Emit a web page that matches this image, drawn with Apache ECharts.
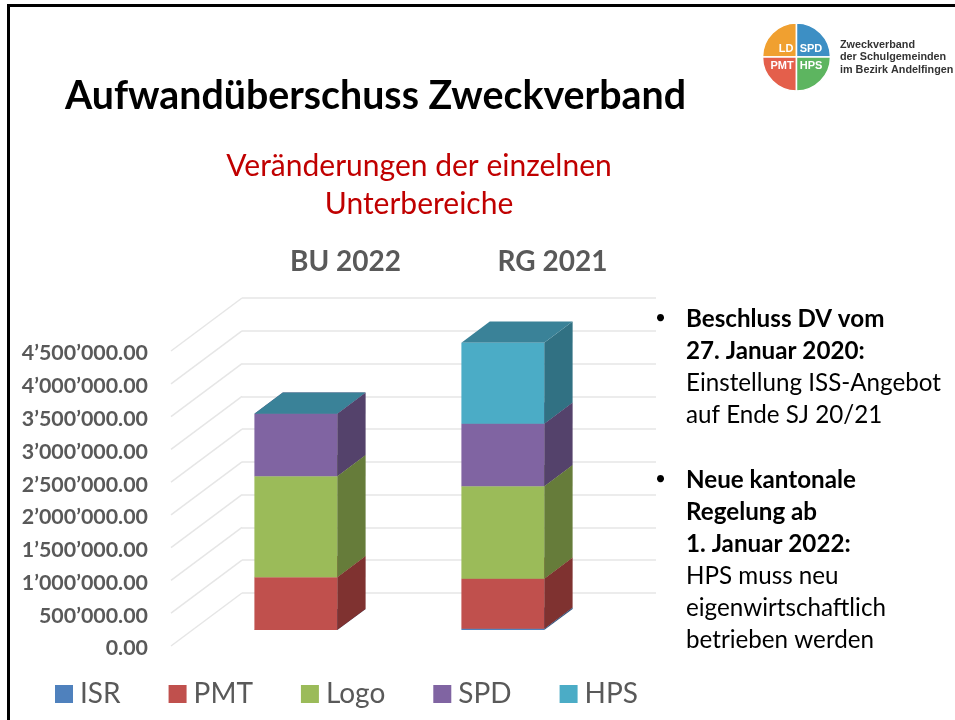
<!DOCTYPE html>
<html>
<head>
<meta charset="utf-8">
<style>
  html, body { margin: 0; padding: 0; background: #fff; }
  #chart { width: 955px; height: 720px; }
</style>
<script src="https://cdn.jsdelivr.net/npm/echarts@6/dist/echarts.min.js"></script>
</head>
<body>
<div id="chart"></div>
<script>
const categories = ["BU 2022", "RG 2021"];
const seriesNames = ["ISR", "PMT", "Logo", "SPD", "HPS"];
const isr = [0, 20000];
const pmt = [808000, 765000];
const logo = [1540000, 1411000];
const spd = [953000, 953000];
const hps = [0, 1234000];
const seriesValues = [isr, pmt, logo, spd, hps];
const yTicks = [0, 500000, 1000000, 1500000, 2000000, 2500000, 3000000, 3500000, 4000000, 4500000];

const frontColors = ["#4F81BD", "#C0504D", "#9BBB59", "#8064A2", "#4BACC6"];
const sideColors = ["#34557D", "#7F3230", "#667C3A", "#54426B", "#317183"];
const topColors = ["#3F6797", "#9A403E", "#7C9647", "#665082", "#3A8298"];

const fontName = "Lato";
// floor depth of the fake 3d box, in pixels
const depthX = 71;
const depthY = -53;
const barWidthShare = 0.4;
const barDepthFrom = 0.3;
const barDepthTo = 0.7;

function formatTick(value) {
  const text = value.toFixed(2).replace(/\B(?=(\d{3})+(?!\d))(?=.*\.)/g, "’");
  return "{v|" + text + "}";
}

function renderBox(index) {
  return function (params, api) {
    const base = api.coord([api.value(0), api.value(1)]);
    const top = api.coord([api.value(0), api.value(2)]);
    const w = api.size([1, 0])[0] * barWidthShare;
    const ox = depthX * barDepthFrom;
    const oy = depthY * barDepthFrom;
    const dx = depthX * (barDepthTo - barDepthFrom);
    const dy = depthY * (barDepthTo - barDepthFrom);
    const x0 = base[0] - w / 2 + ox;
    const x1 = x0 + w;
    const y0 = base[1] + oy;
    const y1 = top[1] + oy;
    return {
      type: "group",
      children: [
        {
          type: "polygon",
          shape: { points: [[x1, y0], [x1 + dx, y0 + dy], [x1 + dx, y1 + dy], [x1, y1]] },
          style: { fill: sideColors[index] }
        },
        {
          type: "polygon",
          shape: { points: [[x0, y1], [x1, y1], [x1 + dx, y1 + dy], [x0 + dx, y1 + dy]] },
          style: { fill: topColors[index] }
        },
        {
          type: "rect",
          shape: { x: x0, y: y1, width: w, height: y0 - y1 },
          style: { fill: frontColors[index] }
        }
      ]
    };
  };
}

function boxSeries() {
  const totals = categories.map(() => 0);
  return seriesNames.map((name, index) => {
    const data = categories.map((cat, c) => {
      const start = totals[c];
      totals[c] += seriesValues[index][c];
      return [c, start, totals[c]];
    });
    return {
      name: name,
      type: "custom",
      xAxisIndex: 0,
      yAxisIndex: 0,
      z: 5,
      itemStyle: { color: frontColors[index] },
      encode: { x: 0, y: [1, 2] },
      data: data,
      renderItem: renderBox(index)
    };
  });
}

const diagonalSeries = {
  type: "custom",
  xAxisIndex: 0,
  yAxisIndex: 0,
  silent: true,
  z: 1,
  clip: false,
  encode: { y: 0 },
  data: yTicks.map((v) => [v]),
  renderItem: function (params, api) {
    const p = api.coord([0, api.value(0)]);
    const x = params.coordSys.x;
    return {
      type: "line",
      shape: { x1: x, y1: p[1], x2: x + depthX, y2: p[1] + depthY },
      style: { stroke: "#E6E6E6", lineWidth: 1.5 }
    };
  }
};

const bulletLines = [
  { text: "Beschluss DV vom", y: 319, bold: true, bullet: true },
  { text: "27. Januar 2020:", y: 351, bold: true },
  { text: "Einstellung ISS-Angebot", y: 383 },
  { text: "auf Ende SJ 20/21", y: 415 },
  { text: "Neue kantonale", y: 480, bold: true, bullet: true },
  { text: "Regelung ab", y: 512, bold: true },
  { text: "1. Januar 2022:", y: 544, bold: true },
  { text: "HPS muss neu", y: 576 },
  { text: "eigenwirtschaftlich", y: 608 },
  { text: "betrieben werden", y: 640 }
];

const logoParts = [
  { label: "LD", fill: "#F0A030", start: Math.PI, end: Math.PI * 1.5, tx: 786, ty: 49 },
  { label: "SPD", fill: "#3D8FC4", start: Math.PI * 1.5, end: Math.PI * 2, tx: 811, ty: 49 },
  { label: "PMT", fill: "#E45F4B", start: Math.PI * 0.5, end: Math.PI, tx: 782, ty: 66 },
  { label: "HPS", fill: "#5DB560", start: 0, end: Math.PI * 0.5, tx: 811, ty: 66 }
];

const logoText = ["Zweckverband", "der Schulgemeinden", "im Bezirk Andelfingen"];

const graphics = [
  { type: "rect", shape: { x: 7, y: 4, width: 948, height: 3 }, style: { fill: "#000" } },
  { type: "rect", shape: { x: 7, y: 4, width: 3, height: 716 }, style: { fill: "#000" } },
  {
    type: "text", x: 65, y: 96,
    style: { text: "Aufwandüberschuss Zweckverband", font: "bold 39.3px " + fontName, fill: "#000", verticalAlign: "middle" }
  },
  {
    type: "text", x: 419, y: 166,
    style: { text: "Veränderungen der einzelnen", font: "30px " + fontName, fill: "#C00000", align: "center", verticalAlign: "middle" }
  },
  {
    type: "text", x: 419, y: 204,
    style: { text: "Unterbereiche", font: "30px " + fontName, fill: "#C00000", align: "center", verticalAlign: "middle" }
  }
];

bulletLines.forEach((line) => {
  graphics.push({
    type: "text", x: 686, y: line.y,
    style: { text: line.text, font: (line.bold ? "bold " : "") + "24.2px " + fontName, fill: "#000", verticalAlign: "middle" }
  });
  if (line.bullet) {
    graphics.push({
      type: "text", x: 655, y: line.y - 1,
      style: { text: "•", font: "19px " + fontName, fill: "#000", verticalAlign: "middle" }
    });
  }
});

logoParts.forEach((part) => {
  graphics.push({
    type: "sector",
    shape: { cx: 796.5, cy: 57, r: 34, startAngle: part.start, endAngle: part.end },
    style: { fill: part.fill, stroke: "#fff", lineWidth: 1.5 }
  });
  graphics.push({
    type: "text", x: part.tx, y: part.ty,
    style: { text: part.label, font: "bold 11px 'Liberation Sans'", fill: "#fff", align: "center", verticalAlign: "middle" }
  });
});

logoText.forEach((text, i) => {
  graphics.push({
    type: "text", x: 840, y: 45 + i * 12.5,
    style: { text: text, font: "bold 10.8px 'Liberation Sans'", fill: "#333", verticalAlign: "middle" }
  });
});

const chart = echarts.init(document.getElementById("chart"), null, { renderer: "canvas" });
chart.setOption({
  animation: false,
  backgroundColor: "#fff",
  textStyle: { fontFamily: fontName },
  legend: {
    data: seriesNames,
    left: 50,
    top: 675,
    icon: "rect",
    itemWidth: 18,
    itemHeight: 18,
    itemGap: 48,
    textStyle: { fontSize: 28, color: "#595959", fontFamily: fontName, padding: [0, 0, 0, 2] }
  },
  grid: [
    { left: 171, top: 351, width: 414, height: 295 },
    { left: 242, top: 298, width: 414, height: 295 }
  ],
  xAxis: [
    { type: "category", gridIndex: 0, data: categories, show: false },
    {
      type: "category",
      gridIndex: 1,
      position: "top",
      data: categories,
      axisLine: { show: false },
      axisTick: { show: false },
      axisLabel: { margin: 22, color: "#595959", fontSize: 28, fontWeight: "bold", fontFamily: fontName }
    }
  ],
  yAxis: [
    {
      type: "value",
      gridIndex: 0,
      min: 0,
      max: 4500000,
      interval: 500000,
      axisLine: { show: false },
      axisTick: { show: false },
      splitLine: { show: false },
      axisLabel: {
        margin: 23,
        formatter: formatTick,
        rich: {
          v: {
            color: "#595959",
            fontSize: 21.4,
            fontWeight: "bold",
            fontFamily: fontName,
            padding: [5, 0, 0, 0]
          }
        }
      }
    },
    {
      type: "value",
      gridIndex: 1,
      min: 0,
      max: 4500000,
      interval: 500000,
      axisLine: { show: false },
      axisTick: { show: false },
      axisLabel: { show: false },
      splitLine: { show: true, lineStyle: { color: "#E6E6E6", width: 1.5 } }
    }
  ],
  series: [diagonalSeries].concat(boxSeries()),
  graphic: { elements: graphics }
});
</script>
</body>
</html>
